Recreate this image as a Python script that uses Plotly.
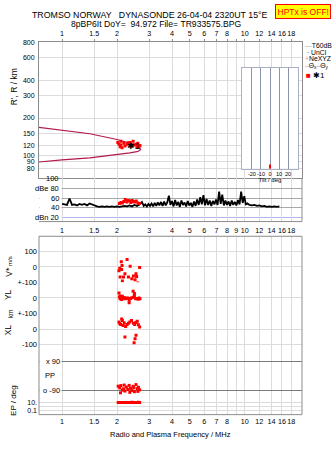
import math
import plotly.graph_objects as go

W, H = 335, 451


def fx(p):
    return p / W


def fy(p):
    return 1 - p / H


FONT = "Liberation Sans, Arial, sans-serif"
GRID = "#dcdcdc"
FRAME = "#8c8c8c"
RED = "#ff0000"
CURVE = "#b3194a"

# ---------------- data ----------------
freq_ticks = [1, 1.5, 2, 3, 4, 5, 6, 7, 8, 9, 10, 12, 14, 16, 18]
freq_text_top = ["1", "1.5", "2", "3", "4", "5", "6", "7", "8", "", "10", "12", "14", "16", "18"]
freq_text_mid = ["1", "1.5", "2", "3", "4", "5", "6", "7", "8", "9", "10", "12", "14", "16", "18"]
freq_text_bot = ["1", "1.5", "2", "3", "4", "5", "6", "7", "8", "", "10", "12", "14", "16", "18"]
height_ticks = [80, 90, 100, 120, 150, 200, 300, 400, 600, 800]

# model trace R'(f)
model_f = [0.74, 1.0, 1.42, 2.0, 2.3, 2.5, 2.60, 2.66, 2.69, 2.66, 2.60, 2.57, 2.35, 2.0, 1.42, 1.0, 0.74]
model_h = [169, 160, 150, 135, 128, 123, 119, 116, 113, 110.5, 108.5, 108, 105.6, 103, 96.6, 93, 89.3]

# echo cluster *1
echo_f = [2.02, 2.05, 2.08, 2.10, 2.13, 2.10, 2.18, 2.21, 2.27, 2.36, 2.39, 2.45, 2.48, 2.54, 2.57, 2.64, 2.67, 2.30, 2.60]
echo_h = [128, 124, 118, 131, 116, 122, 126, 120, 124, 128, 120, 131, 122, 124, 117, 119, 121, 127, 126]

# amplitude (dB) along the sweep
amp_f = [1.000, 1.032, 1.065, 1.099, 1.134, 1.170, 1.208, 1.246, 1.286, 1.327, 1.370, 1.414,
         1.459, 1.506, 1.554, 1.603, 1.655, 1.708, 1.762, 1.819, 1.877, 1.937, 1.999, 2.063,
         2.129, 2.197, 2.267, 2.340, 2.414, 2.492, 2.571, 2.653, 2.738,
         2.800, 2.856, 2.913, 2.971, 3.031, 3.091, 3.153, 3.216, 3.281, 3.346, 3.413, 3.481,
         3.551, 3.622, 3.695, 3.768, 3.844, 3.921, 3.999, 4.079, 4.161, 4.244, 4.329, 4.415,
         4.504, 4.594, 4.686, 4.779, 4.875, 4.972, 5.072, 5.173, 5.277, 5.382, 5.490, 5.600,
         5.712, 5.826, 5.942, 6.061, 6.183, 6.306, 6.432, 6.561, 6.692, 6.826, 6.963, 7.102,
         7.244, 7.389, 7.537, 7.687, 7.841, 7.998, 8.158, 8.321, 8.488, 8.657, 8.831, 9.007,
         9.187, 9.371, 9.559, 9.750, 9.945, 10.14, 10.35,
         10.61, 10.94, 11.29, 11.66, 12.03, 12.41, 12.81, 13.22, 13.64, 14.08, 14.53, 15.00, 15.48]
amp_db = [48, 47, 46, 59, 46, 47, 45, 48, 46, 48, 45, 49,
          47, 44, 43, 42, 43, 42, 43, 42, 43, 42, 43, 42,
          43, 44, 43, 45, 43, 46, 44, 47, 52,
          44, 47, 43, 48, 44, 49, 43, 50, 44, 51, 45, 52,
          44, 53, 45, 51, 65, 46, 54, 43, 56, 45, 52, 42,
          55, 46, 51, 43, 54, 45, 50, 42, 53, 44, 57, 46,
          62, 47, 66, 45, 58, 46, 55, 44, 54, 47, 57, 46,
          73, 48, 67, 45, 55, 46, 53, 44, 55, 46, 52, 45,
          56, 47, 73, 50, 64, 47, 49,
          46, 45, 46, 44, 45, 43, 44, 42, 43, 42, 43, 42, 43]

echo_amp_f = [2.06, 2.10, 2.14, 2.18, 2.22, 2.26, 2.30, 2.34, 2.38, 2.42, 2.46, 2.50, 2.55, 2.60, 2.65]
echo_amp_db = [49, 51, 50, 53, 57, 52, 55, 54, 51, 55, 53, 52, 54, 50, 49]

# V* (m/s)
vs_f = [2.05, 2.08, 2.09, 2.11, 2.13, 2.12, 2.14, 2.21, 2.17, 2.27, 2.36, 2.31, 2.41, 2.46, 2.51, 2.54, 2.56, 2.60, 2.66, 2.07]
vs_v = [-24, -66, -131, 34, 10, -16, -92, -45, -66, 50, 5, -66, -77, -60, -84, -45, -62, -105, -4, -8]

# YL (km)
yl_f = [2.05, 2.06, 2.08, 2.10, 2.12, 2.14, 2.16, 2.19, 2.22, 2.25, 2.29, 2.33, 2.37, 2.41, 2.45, 2.49, 2.53, 2.57, 2.61, 2.64, 2.67, 2.33, 2.46, 2.49, 2.08]
yl_v = [31, 6, -6, 3, -10, 10, -3, 2, -6, -2, 0, -31, -4, 1, 43, 15, -5, -3, -8, 0, -6, -14, 4, 28, 12]

# XL (km)
xl_f = [2.05, 2.07, 2.09, 2.12, 2.14, 2.16, 2.19, 2.23, 2.27, 2.31, 2.35, 2.40, 2.46, 2.50, 2.54, 2.58, 2.62, 2.66, 2.21, 2.54, 2.51, 2.48]
xl_v = [45, 35, 30, 65, 55, 23, 40, 17, 30, 38, 45, 55, 38, 30, 42, 50, 28, 13, -51, -40, -62, -89]

# PP (deg)
pp_f = [2.03, 2.07, 2.10, 2.14, 2.17, 2.21, 2.25, 2.29, 2.33, 2.37, 2.41, 2.45, 2.49, 2.54, 2.58, 2.62, 2.66, 2.09, 2.35, 2.60, 2.19, 2.47]
pp_v = [-65, -76, -61, -90, -82, -96, -70, -85, -60, -78, -92, -66, -100, -55, -80, -72, -88, -107, -104, -98, -58, -75]

# EP (deg)
ep_f = [2.03, 2.06, 2.09, 2.12, 2.15, 2.18, 2.21, 2.24, 2.27, 2.30, 2.34, 2.38, 2.42, 2.46, 2.50, 2.54, 2.58, 2.62, 2.66]
ep_v = [12, 12, 13, 12, 12, 13, 12, 12, 12, 13, 12, 12, 14, 12, 12, 13, 12, 14, 12]

# tilt histogram
tilt_deg = [0]
tilt_count = [4]

# ---------------- figure ----------------
fig = go.Figure()
sq = dict(symbol="square", size=3, color=RED, line=dict(width=0))

fig.add_trace(go.Scatter(x=model_f, y=model_h, mode="lines", line=dict(color=CURVE, width=1.2),
                         xaxis="x", yaxis="y"))
fig.add_trace(go.Scatter(x=echo_f, y=echo_h, mode="markers", marker=sq, xaxis="x", yaxis="y"))
fig.add_trace(go.Scatter(x=amp_f, y=amp_db, mode="lines", line=dict(color="black", width=1.8),
                         xaxis="x2", yaxis="y2"))
fig.add_trace(go.Scatter(x=echo_amp_f, y=echo_amp_db, mode="markers", marker=sq, xaxis="x2", yaxis="y2"))
fig.add_trace(go.Scatter(x=vs_f, y=vs_v, mode="markers", marker=sq, xaxis="x3", yaxis="y3"))
fig.add_trace(go.Scatter(x=yl_f, y=yl_v, mode="markers", marker=sq, xaxis="x3", yaxis="y4"))
fig.add_trace(go.Scatter(x=xl_f, y=xl_v, mode="markers", marker=sq, xaxis="x3", yaxis="y5"))
fig.add_trace(go.Scatter(x=pp_f, y=pp_v, mode="markers", marker=sq, xaxis="x3", yaxis="y6"))
fig.add_trace(go.Scatter(x=ep_f, y=ep_v, mode="markers", marker=sq, xaxis="x3", yaxis="y7"))
fig.add_trace(go.Bar(x=tilt_deg, y=tilt_count, width=1.8, marker=dict(color=RED, line=dict(width=0)),
                     xaxis="x4", yaxis="y8"))

xr = [math.log10(0.748), math.log10(20.59)]
xdom = [fx(39), fx(302)]
tickfont = dict(family=FONT, size=7.2, color="black")

common_x = dict(type="log", range=xr, domain=xdom, tickvals=freq_ticks, showgrid=True,
                gridcolor=GRID, gridwidth=1, zeroline=False, tickfont=tickfont, tickangle=0)

lower_y = dict(showgrid=True, gridcolor=GRID, zeroline=False, ticks="", showline=False,
               tickfont=dict(family=FONT, size=7.5, color="black"), ticklabelstandoff=1)

fig.update_layout(
    width=W, height=H,
    margin=dict(l=0, r=0, t=0, b=0),
    paper_bgcolor="white", plot_bgcolor="white",
    showlegend=False,
    font=dict(family=FONT, size=8, color="black"),
    xaxis=dict(common_x, anchor="y", side="top", ticktext=freq_text_top, ticks="outside",
               ticklen=2, tickcolor=FRAME, showline=True, mirror=True, linecolor=FRAME),
    xaxis2=dict(common_x, anchor="y2", side="bottom", ticktext=freq_text_mid, ticks="",
                matches="x", showline=False, ticklabelstandoff=3),
    xaxis3=dict(common_x, anchor="y7", side="bottom", ticktext=freq_text_bot, ticks="",
                matches="x", showline=False, ticklabelstandoff=1),
    xaxis4=dict(domain=[fx(242), fx(298)], anchor="y8", range=[-31, 31],
                tickvals=[-20, -10, 0, 10, 20], ticktext=["-20", "-10", "0", "10", "20"],
                showgrid=True, gridcolor="#8c94ac", zeroline=False, showline=True, mirror=True,
                linecolor="#aab0c8", ticks="", ticklabelstandoff=0, tickangle=0,
                tickfont=dict(family=FONT, size=5.5, color="black"),
                title=dict(text="Tilt / deg", font=dict(family=FONT, size=6), standoff=0)),
    yaxis=dict(type="log", domain=[fy(178), fy(39)], anchor="x",
               range=[math.log10(66.2), math.log10(800)], tickvals=height_ticks,
               ticktext=[str(v) for v in height_ticks], showgrid=True, gridcolor=GRID,
               zeroline=False, ticks="", showline=True, mirror=True, linecolor=FRAME,
               tickfont=dict(family=FONT, size=7, color="black"), ticklabelstandoff=2),
    yaxis2=dict(domain=[fy(222), fy(178)], anchor="x2", range=[12, 100],
                tickvals=[40, 60, 80, 100], showticklabels=False, showgrid=True,
                gridcolor="#a8a8a8", zeroline=False, ticks="", showline=False,
                minor=dict(tickvals=[20], showgrid=True, gridcolor="#b4b4ee", ticks="")),
    yaxis3=dict(lower_y, domain=[fy(284), fy(237)], anchor="x3", range=[-101, 202],
                tickvals=[100, 0, -100], ticktext=["100", "0", "+-100"]),
    yaxis4=dict(lower_y, domain=[fy(316), fy(284)], anchor="x3", range=[-100.5, 99.5],
                tickvals=[0, -100], ticktext=["0", "+-100"]),
    yaxis5=dict(lower_y, domain=[fy(352), fy(316)], anchor="x3", range=[-128.6, 99],
                tickvals=[0, -100], ticktext=["0", "-100"]),
    yaxis6=dict(lower_y, domain=[fy(402), fy(352)], anchor="x3", range=[-139.7, 170.7],
                tickvals=[90, -90], showticklabels=False, gridcolor="#7a7a7a"),
    yaxis7=dict(lower_y, type="log", domain=[fy(419), fy(402)], anchor="x3", range=[-2, 2.25],
                tickvals=[0.1, 1, 10], ticktext=["0.1", "", "10."],
                tickfont=dict(family=FONT, size=7, color="black")),
    yaxis8=dict(domain=[fy(168), fy(65)], anchor="x4", range=[0, 100], showgrid=False,
                showticklabels=False, zeroline=False, showline=True, mirror=True,
                linecolor="#aab0c8", ticks=""),
)

# frames, and blank label strips inside the amplitude and PP panels
shapes = [
    dict(type="rect", xref="paper", yref="paper", x0=fx(39.5), x1=fx(61.5), y0=fy(221.5), y1=fy(178.6),
         fillcolor="white", line=dict(width=0), layer="above"),
    dict(type="rect", xref="paper", yref="paper", x0=fx(39.5), x1=fx(61.5), y0=fy(401), y1=fy(353),
         fillcolor="white", line=dict(width=0), layer="above"),
    dict(type="rect", xref="paper", yref="paper", x0=fx(39), x1=fx(302), y0=fy(419), y1=fy(237),
         line=dict(color=FRAME, width=1), layer="above"),
    dict(type="line", xref="paper", yref="paper", x0=fx(302), x1=fx(302), y0=fy(222), y1=fy(178),
         line=dict(color=FRAME, width=1)),
    dict(type="line", xref="paper", yref="paper", x0=fx(39), x1=fx(302), y0=fy(222), y1=fy(222),
         line=dict(color=FRAME, width=1)),
]
fig.update_layout(shapes=shapes)

ann = []


def text(x, y, s, size=8, xanchor="center", yanchor="middle", angle=0, color="black", **kw):
    ann.append(dict(x=x, y=y, xref="paper", yref="paper", text=s, showarrow=False,
                    xanchor=xanchor, yanchor=yanchor, textangle=angle,
                    font=dict(family=FONT, size=size, color=color), **kw))


NB = "\u00a0"
text(fx(150), fy(11.5), f"TROMSO NORWAY{NB*3}DYNASONDE 26-04-04 2320UT 15°E", size=8.8)
text(fx(156), fy(20.5), f"8pBP6It DoY={NB*2}94.972 File={NB}TR933575.BPG", size=8.6)
text(fx(302.5), fy(7.5), "HPTx is OFF!", size=8.5, color=RED, bgcolor="#ffff00",
     bordercolor=RED, borderwidth=1, borderpad=1.5)

# legend block
LS = 6.8
text(fx(303), fy(42), "<span style='color:#b0b0b0'>—</span>T60dB", size=LS, xanchor="left")
text(fx(303), fy(49), "<span style='color:#000'>\u00a0·\u00a0</span>UnCl", size=LS, xanchor="left")
text(fx(303), fy(56), "<span style='color:#f08aa0'>+</span>NeXYZ", size=LS, xanchor="left")
text(fx(302.5), fy(63), "<span style='color:#f08aa0'>–</span>Θ<sub>x</sub>"
     "<span style='color:#8a8ae6'>–</span>Θ<sub>y</sub>", size=LS, xanchor="left")
text(fx(304), fy(72.5), "<span style='color:#ff0000'>■</span>\u00a0✱1", size=8, xanchor="left")

# cluster tag
ann.append(dict(x=math.log10(2.45), y=math.log10(120), xref="x", yref="y", text="✱1",
                showarrow=False, font=dict(family=FONT, size=9, color="black")))

# axis names
text(fx(14), fy(85), "R', R / km", size=8.5, angle=-90)
text(fx(9), fy(268), "V*<span style='font-size:6px'> m/s</span>", size=8.5, angle=-90)
text(fx(8), fy(297), "YL", size=8.5, angle=-90)
text(fx(10.5), fy(316), "km", size=6.5, angle=-90)
text(fx(8), fy(333), "XL", size=8.5, angle=-90)
text(fx(14), fy(405), "EP / deg", size=8, angle=-90)

# amplitude scale labels (inside the panel)
for v, s in [(100, "100"), (80, "dBe 80"), (60, "60"), (40, "40"), (20, "dBn 20")]:
    ypx = 178 + (100 - v) * 0.5
    text(fx(61), fy(ypx), s, size=7.5, xanchor="right")

# PP labels
text(fx(61.5), fy(365), "x 90", size=7.5, xanchor="right")
text(fx(61.5), fy(394), "o -90", size=7.5, xanchor="right")
text(fx(43), fy(379), "PP", size=7.5, xanchor="left")

text(fx(170.5), fy(439), "Radio and Plasma Frequency / MHz", size=7.5)

fig.update_layout(annotations=ann)
fig.write_html("out.html")
